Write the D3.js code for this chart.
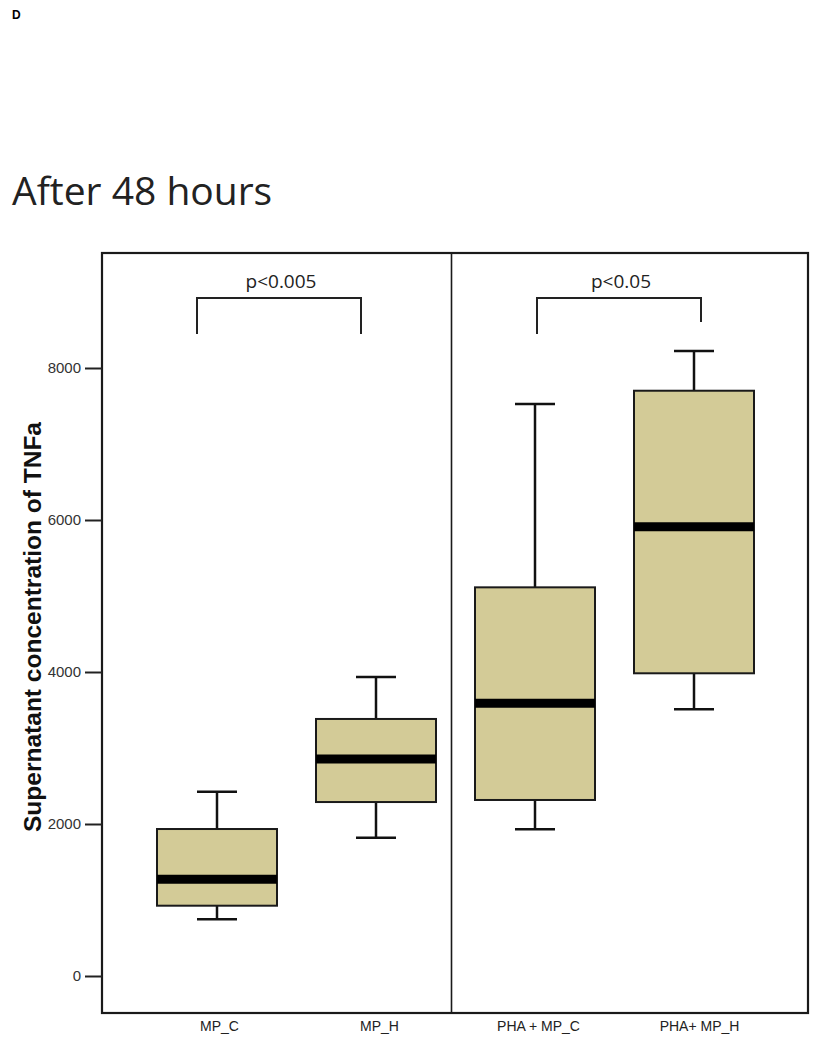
<!DOCTYPE html>
<html><head><meta charset="utf-8">
<script src="https://cdn.jsdelivr.net/npm/d3@7"></script>
<style>body{margin:0;background:#fff}svg{display:block}</style>
</head><body>
<script>
const categories = ["MP_C", "MP_H", "PHA + MP_C", "PHA+ MP_H"];
const whiskerLow = [746, 1820, 1930, 3509];
const q1 = [925, 2289, 2316, 3983];
const median = [1272, 2855, 3588, 5912];
const q3 = [1934, 3382, 5114, 7701];
const whiskerHigh = [2425, 3934, 7526, 8224];
const yTicks = [0, 2000, 4000, 6000, 8000];
const comparisons = [
  {from: 0, to: 1, label: "p<0.005"},
  {from: 2, to: 3, label: "p<0.05"}
];

const W = 822, H = 1050;
const svg = d3.select("body").append("svg").attr("width", W).attr("height", H);
const frame = {left: 102, right: 808, top: 253, bottom: 1013};

const x = d3.scalePoint().domain(categories).range([217, 694]);
const y = d3.scaleLinear().domain([0, 8000]).range([976, 368]);
const boxW = 120, capW = 40;
const fill = "#d3cb97";

svg.append("text").attr("x", 12).attr("y", 19)
  .attr("font-family", "Liberation Sans, Arial, sans-serif").attr("font-weight", "bold")
  .attr("font-size", 12).text("D");

svg.append("text").attr("x", 12).attr("y", 205)
  .attr("font-family", "Open Sans, Noto Sans, sans-serif")
  .attr("font-size", 39).attr("fill", "#222").text("After 48 hours");

// boxes
const data = categories.map((c, i) => ({c, lo: whiskerLow[i], q1: q1[i], med: median[i], q3: q3[i], hi: whiskerHigh[i]}));
const g = svg.append("g");
data.forEach(d => {
  const cx = x(d.c);
  g.append("line").attr("x1", cx).attr("x2", cx).attr("y1", y(d.hi)).attr("y2", y(d.q3))
    .attr("stroke", "#111").attr("stroke-width", 2.5);
  g.append("line").attr("x1", cx).attr("x2", cx).attr("y1", y(d.q1)).attr("y2", y(d.lo))
    .attr("stroke", "#111").attr("stroke-width", 2.5);
  g.append("line").attr("x1", cx - capW/2).attr("x2", cx + capW/2).attr("y1", y(d.hi)).attr("y2", y(d.hi))
    .attr("stroke", "#111").attr("stroke-width", 2.5);
  g.append("line").attr("x1", cx - capW/2).attr("x2", cx + capW/2).attr("y1", y(d.lo)).attr("y2", y(d.lo))
    .attr("stroke", "#111").attr("stroke-width", 2.5);
  g.append("rect").attr("x", cx - boxW/2).attr("width", boxW)
    .attr("y", y(d.q3)).attr("height", y(d.q1) - y(d.q3))
    .attr("fill", fill).attr("stroke", "#1a1a1a").attr("stroke-width", 2);
  g.append("line").attr("x1", cx - boxW/2).attr("x2", cx + boxW/2).attr("y1", y(d.med)).attr("y2", y(d.med))
    .attr("stroke", "#000").attr("stroke-width", 9);
});

// frame
svg.append("rect").attr("x", frame.left).attr("y", frame.top)
  .attr("width", frame.right - frame.left).attr("height", frame.bottom - frame.top)
  .attr("fill", "none").attr("stroke", "#1a1a1a").attr("stroke-width", 2.2);
const divX = (x(categories[1]) + x(categories[2])) / 2 - 4;
svg.append("line").attr("x1", divX).attr("x2", divX).attr("y1", frame.top).attr("y2", frame.bottom)
  .attr("stroke", "#1a1a1a").attr("stroke-width", 1.6);

// y axis
const yAxis = d3.axisLeft(y).tickValues(yTicks).tickSize(17).tickPadding(4).tickFormat(d3.format("d"));
const ya = svg.append("g").attr("transform", `translate(${frame.left},0)`).call(yAxis);
ya.select(".domain").remove();
ya.selectAll(".tick line").attr("stroke", "#222").attr("stroke-width", 2);
ya.selectAll(".tick text").attr("font-family", "Liberation Sans, Arial, sans-serif")
  .attr("font-size", 15).attr("fill", "#333");

// x axis labels
const xAxis = d3.axisBottom(x).tickSize(0).tickPadding(8);
const xa = svg.append("g").attr("transform", `translate(0,${frame.bottom})`).call(xAxis);
xa.select(".domain").remove();
xa.selectAll(".tick text").attr("font-family", "Liberation Sans Narrow, Liberation Sans, Arial, sans-serif")
  .attr("font-size", 14).attr("fill", "#222")
  .attr("dx", (d, i) => [2, 3, 3, 5][i]);

// y label
svg.append("text").attr("transform", "translate(41,627) rotate(-90)")
  .attr("text-anchor", "middle")
  .attr("font-family", "Liberation Sans, Arial, sans-serif").attr("font-weight", "bold")
  .attr("font-size", 24).attr("fill", "#111")
  .attr("textLength", 410).attr("lengthAdjust", "spacingAndGlyphs")
  .text("Supernatant concentration of TNFa");

// brackets
const bracketTop = 298;
const legEnds = [[334, 334], [334, 322]];
const legOffsets = [[-20, -15], [2, 7]];
comparisons.forEach((c, i) => {
  const x1 = x(categories[c.from]) + legOffsets[i][0], x2 = x(categories[c.to]) + legOffsets[i][1];
  svg.append("path")
    .attr("d", `M${x1},${legEnds[i][0]} V${bracketTop} H${x2} V${legEnds[i][1]}`)
    .attr("fill", "none").attr("stroke", "#222").attr("stroke-width", 2);
  svg.append("text").attr("x", (x1 + x2) / 2 + 2).attr("y", 288)
    .attr("text-anchor", "middle")
    .attr("font-family", "Open Sans, Noto Sans, sans-serif")
    .attr("font-size", 19).attr("fill", "#222").text(c.label);
});
</script>
</body></html>
